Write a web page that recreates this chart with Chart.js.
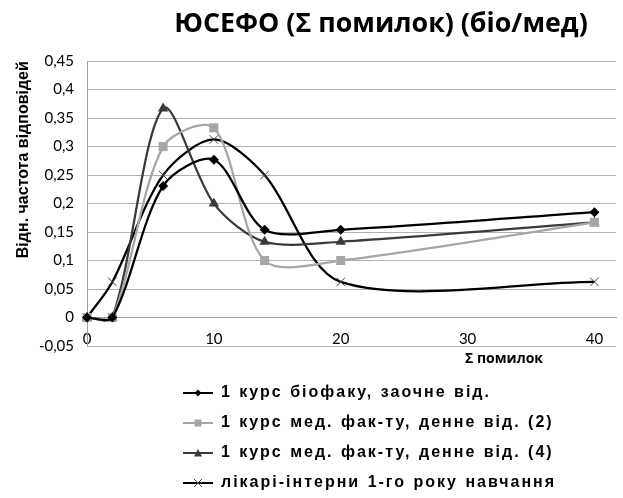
<!DOCTYPE html>
<html>
<head>
<meta charset="utf-8">
<script src="https://cdn.jsdelivr.net/npm/chart.js@4"></script>
<style>
  html, body { margin: 0; padding: 0; background: #fff; }
  #wrap { width: 623px; height: 498px; }
</style>
</head>
<body>
<div id="wrap"><canvas id="chart" width="623" height="498"></canvas></div>
<script>
// values (Σ помилок -> relative frequency)
const xValues = [0, 2, 6, 10, 14, 20, 40];
const bioZaoch = [0, 0, 0.231, 0.277, 0.154, 0.154, 0.185];
const med2 = [0, 0, 0.3, 0.333, 0.1, 0.1, 0.167];
const med4 = [0, 0, 0.367, 0.2, 0.133, 0.133, 0.167];
const interns = [0, 0.0625, 0.25, 0.3125, 0.25, 0.0625, 0.0625];

const seriesNames = [
  '1 курс біофаку, заочне від.',
  '1 курс мед. фак-ту, денне від. (2)',
  '1 курс мед. фак-ту, денне від. (4)',
  'лікарі-інтерни 1-го року навчання',
];
const chartTitle = 'ЮСЕФО (Σ помилок) (біо/мед)';
const xTitle = 'Σ помилок';
const yTitle = 'Відн. частота відповідей';

const xTicks = [0, 10, 20, 30, 40];
const yTicks = [-0.05, 0, 0.05, 0.1, 0.15, 0.2, 0.25, 0.3, 0.35, 0.4, 0.45];
const yTickLabels = ['-0,05', '0', '0,05', '0,1', '0,15', '0,2', '0,25', '0,3', '0,35', '0,4', '0,45'];

const colors = ['#000000', '#a6a6a6', '#3a3a3a', '#000000'];
const markerColors = ['#000000', '#a6a6a6', '#3a3a3a', '#404040'];

function legendIcon(i) {
  const c = document.createElement('canvas');
  c.width = 30; c.height = 12;
  const g = c.getContext('2d');
  g.strokeStyle = colors[i];
  g.lineWidth = 2;
  g.beginPath(); g.moveTo(0, 6); g.lineTo(30, 6); g.stroke();
  g.fillStyle = markerColors[i];
  g.strokeStyle = markerColors[i];
  g.beginPath();
  if (i === 0) {
    g.moveTo(15, 2.5); g.lineTo(18.5, 6); g.lineTo(15, 9.5); g.lineTo(11.5, 6); g.closePath(); g.fill();
  } else if (i === 1) {
    g.rect(11.5, 2.5, 7, 7); g.fill();
  } else if (i === 2) {
    g.moveTo(15, 2); g.lineTo(19, 9.5); g.lineTo(11, 9.5); g.closePath(); g.fill();
  } else {
    g.lineWidth = 1;
    g.moveTo(11, 2); g.lineTo(19, 10); g.moveTo(19, 2); g.lineTo(11, 10); g.stroke();
  }
  return c;
}

function series(i, values, style, radius) {
  return {
    label: seriesNames[i],
    data: xValues.map((x, k) => ({ x, y: values[k] })),
    borderColor: colors[i],
    backgroundColor: markerColors[i],
    pointBorderColor: markerColors[i],
    pointBackgroundColor: markerColors[i],
    borderWidth: 2.25,
    pointStyle: style,
    pointRadius: radius,
    pointBorderWidth: i === 3 ? 1 : 0,
    tension: 0.3,
    clip: false,
  };
}

// moves title and legend to where the reference has them
const placeBlocks = {
  id: 'placeBlocks',
  afterLayout(chart) {
    const lg = chart.legend;
    const lw = lg.right - lg.left;
    const lh = lg.bottom - lg.top;
    lg.left = 183 - lg.options.labels.padding;
    lg.right = lg.left + lw;
    lg.top = chart.chartArea.bottom + 25;
    lg.bottom = lg.top + lh;
    if (!lg._spaced) {
      const draw = lg.draw.bind(lg);
      lg.draw = (area) => {
        const c = chart.ctx;
        c.save();
        c.letterSpacing = '2px';
        c.wordSpacing = '1px';
        draw(area);
        c.restore();
      };
      lg._spaced = true;
    }
    const tb = chart.titleBlock;
    const tw = tb.right - tb.left;
    tb.left = 381 - tw / 2;
    tb.right = tb.left + tw;
  },
  afterDraw(chart) {
    const { ctx, chartArea } = chart;
    ctx.save();
    ctx.font = 'bold 14px "Open Sans"';
    ctx.fillStyle = '#000';
    ctx.textAlign = 'center';
    ctx.textBaseline = 'middle';
    ctx.fillText(xTitle, 504, chartArea.bottom + 13);
    ctx.restore();
  },
};

Chart.defaults.font.family = 'Lato';
Chart.defaults.color = '#000';

new Chart(document.getElementById('chart'), {
  type: 'line',
  data: {
    datasets: [
      series(0, bioZaoch, 'rectRot', 5),
      series(1, med2, 'rect', 6.4),
      series(2, med4, 'triangle', 6),
      series(3, interns, 'crossRot', 6),
    ],
  },
  options: {
    responsive: false,
    animation: false,
    layout: { padding: { left: 0, right: 4, top: 0, bottom: 22 } },
    plugins: {
      title: {
        display: true,
        text: chartTitle,
        font: { family: '"Open Sans"', size: 26.8, weight: 'bold' },
        color: '#000',
        padding: { top: 8, bottom: 21 },
      },
      legend: {
        position: 'bottom',
        align: 'start',
        fullSize: false,
        labels: {
          usePointStyle: true,
          pointStyleWidth: 30,
          padding: 14,
          color: '#000',
          font: { family: '"Liberation Sans"', size: 16, weight: 'bold' },
          generateLabels: (chart) => chart.data.datasets.map((ds, i) => ({
            text: ds.label,
            pointStyle: legendIcon(i),
            datasetIndex: i,
            hidden: false,
            lineWidth: 0,
            fillStyle: 'transparent',
            strokeStyle: 'transparent',
          })),
        },
      },
      tooltip: { enabled: false },
    },
    scales: {
      x: {
        type: 'linear',
        position: { y: 0 },
        min: 0,
        max: 41.7,
        afterBuildTicks: (s) => { s.ticks = xTicks.map((v) => ({ value: v })); },
        ticks: { padding: 13, font: { size: 15 }, color: '#000', maxRotation: 0 },
        grid: { display: false, drawTicks: false },
        border: { color: '#a0a0a0', width: 1 },
      },
      y: {
        type: 'linear',
        min: -0.05,
        max: 0.45,
        afterBuildTicks: (s) => { s.ticks = yTicks.map((v) => ({ value: v })); },
        afterFit: (s) => { s.width = 87; },
        ticks: {
          padding: 13,
          font: { size: 15 },
          color: '#000',
          callback: (v, i) => yTickLabels[i],
        },
        grid: { color: '#b0b0b0', drawTicks: false },
        border: { color: '#a0a0a0', width: 1 },
        title: {
          display: true,
          text: yTitle,
          align: 'end',
          color: '#000',
          font: { family: '"Liberation Sans"', size: 16, weight: 'bold' },
          padding: { top: 14, bottom: 0 },
        },
      },
    },
  },
  plugins: [placeBlocks],
});
</script>
</body>
</html>
